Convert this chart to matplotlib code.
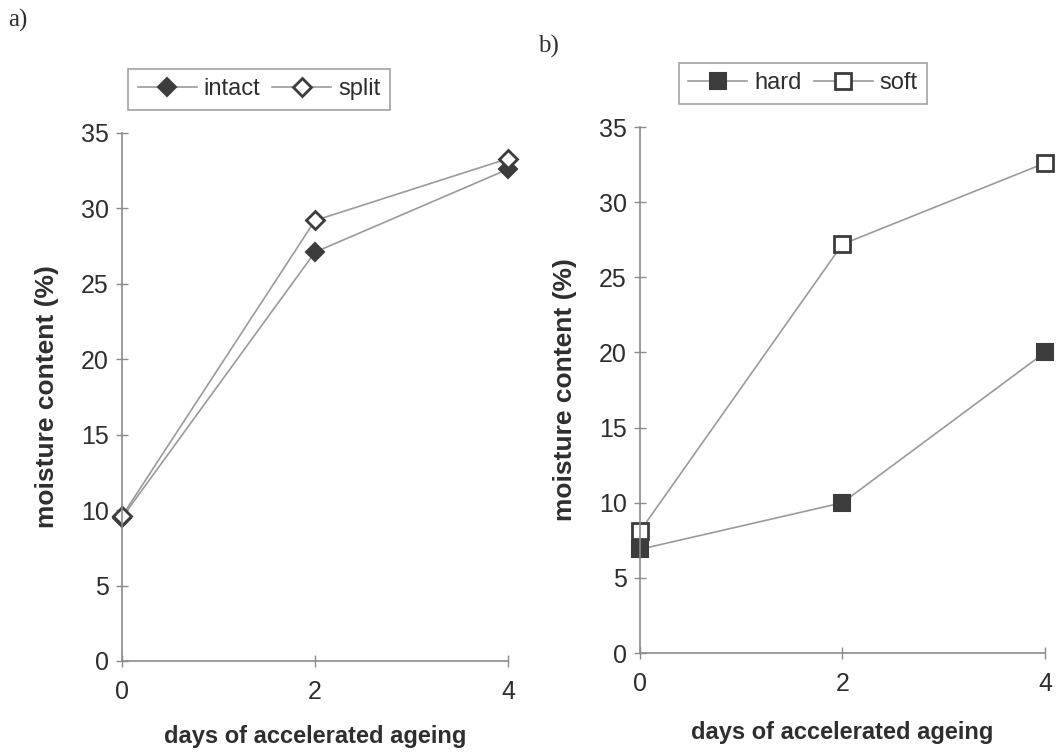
import matplotlib.pyplot as plt

plt.rcParams['font.family'] = ['Liberation Sans', 'DejaVu Sans']

days = [0, 2, 4]
intact = [9.5, 27.1, 32.6]
split = [9.6, 29.2, 33.3]
hard = [6.9, 10.0, 20.0]
soft = [8.1, 27.2, 32.6]
yticks = [0, 5, 10, 15, 20, 25, 30, 35]

line_c = '#9a9a9a'
dark = '#3c3c3c'
text_c = '#2e2e2e'

fig = plt.figure(figsize=(10.59, 7.53), dpi=100)
ax1 = fig.add_axes([0.1152, 0.1222, 0.3645, 0.7012])
ax2 = fig.add_axes([0.6043, 0.1328, 0.3824, 0.6985])

l1, = ax1.plot(days, intact, '-', color=line_c, lw=1.2, marker='D', ms=9,
               mfc=dark, mec=dark, mew=1.5, clip_on=False, label='intact')
l2, = ax1.plot(days, split, '-', color=line_c, lw=1.2, marker='D', ms=9,
               mfc='white', mec=dark, mew=2, clip_on=False, label='split')
l3, = ax2.plot(days, hard, '-', color=line_c, lw=1.2, marker='s', ms=11,
               mfc=dark, mec=dark, mew=1.5, clip_on=False, label='hard')
l4, = ax2.plot(days, soft, '-', color=line_c, lw=1.2, marker='s', ms=11,
               mfc='white', mec=dark, mew=2, clip_on=False, label='soft')

for ax in (ax1, ax2):
    ax.set_xlim(0, 4)
    ax.set_ylim(0, 35)
    ax.set_xticks(days)
    ax.set_yticks(yticks)
    for s in ('top', 'right'):
        ax.spines[s].set_visible(False)
    for s in ('left', 'bottom'):
        ax.spines[s].set_color('#8a8a8a')
        ax.spines[s].set_linewidth(1.2)
    ax.tick_params(direction='inout', length=9, width=1, color='#8a8a8a',
                   labelsize=18, labelcolor=text_c, pad=5)
    ax.tick_params(axis='x', pad=9)
    ax.set_ylabel('moisture content (%)', fontsize=19, fontweight='bold',
                  color=text_c, labelpad=16)
    ax.set_xlabel('days of accelerated ageing', fontsize=17, fontweight='bold',
                  color=text_c)

ax1.xaxis.set_label_coords(0.5, -0.122)
ax2.xaxis.set_label_coords(0.5, -0.13)

leg_kw = dict(loc='lower left', ncol=2, fontsize=17, frameon=True, fancybox=False,
              edgecolor='#8a8a8a', handlelength=2.5, columnspacing=0.5,
              handletextpad=0.3, borderpad=0.4, borderaxespad=0, labelcolor=text_c)
leg1 = ax1.legend(handles=[l1, l2], bbox_to_anchor=(0.016, 1.044), **leg_kw)
leg2 = ax2.legend(handles=[l3, l4], bbox_to_anchor=(0.096, 1.044), **leg_kw)
for leg in (leg1, leg2):
    leg.get_frame().set_linewidth(1.2)

fig.text(0.008, 0.965, 'a)', family='Liberation Serif', fontsize=18, color=text_c)
fig.text(0.508, 0.93, 'b)', family='Liberation Serif', fontsize=18, color=text_c)

fig.savefig('out.png', dpi=100)
